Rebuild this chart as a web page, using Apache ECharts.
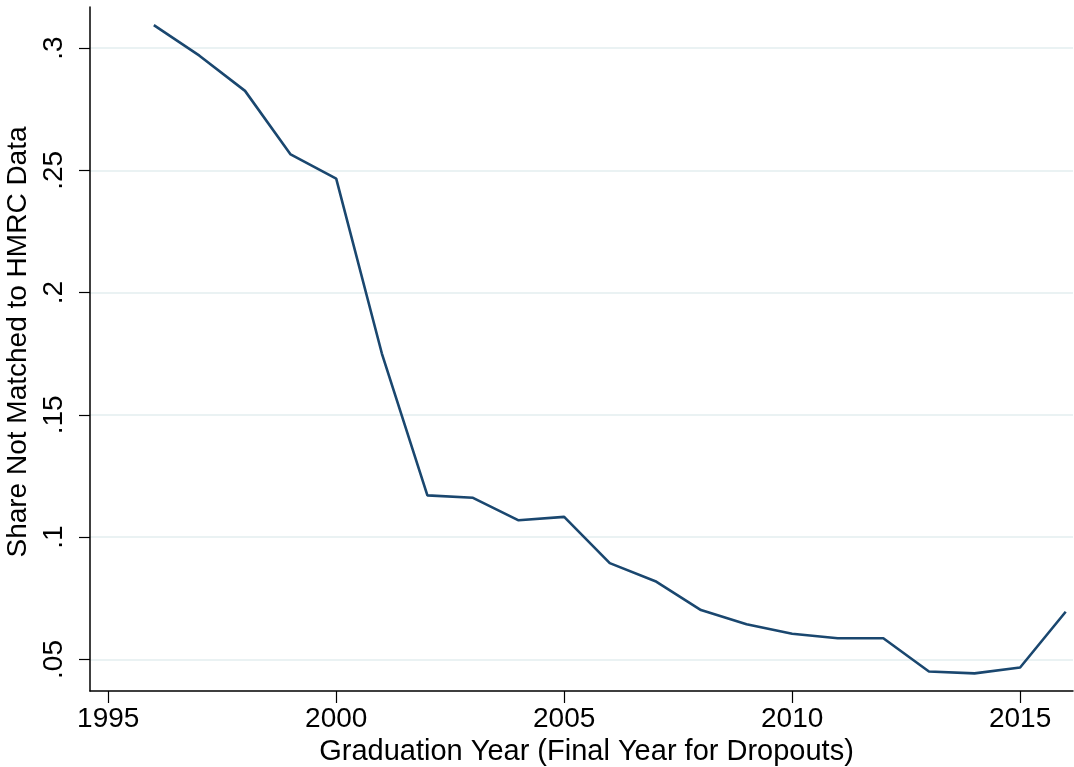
<!DOCTYPE html>
<html>
<head>
<meta charset="utf-8">
<script src="https://cdn.jsdelivr.net/npm/echarts@6/dist/echarts.min.js"></script>
<style>
html,body{margin:0;padding:0;background:#fff;}
#chart{width:1074px;height:767px;}
</style>
</head>
<body>
<div id="chart"></div>
<script>
const years = [1996,1997,1998,1999,2000,2001,2002,2003,2004,2005,2006,2007,2008,2009,2010,2011,2012,2013,2014,2015,2016];
const shareNotMatched = [0.3094,0.2969,0.2825,0.2565,0.2466,0.1752,0.1171,0.1161,0.1069,0.1083,0.0894,0.0820,0.0702,0.0644,0.0605,0.0587,0.0587,0.0451,0.0443,0.0467,0.0695];
const xTicks = [1995,2000,2005,2010,2015];
const yTicks = [0.05,0.1,0.15,0.2,0.25,0.3];
const xTitle = 'Graduation Year (Final Year for Dropouts)';
const yTitle = 'Share Not Matched to HMRC Data';

const font = '"Liberation Sans", Arial, sans-serif';
const chart = echarts.init(document.getElementById('chart'), null, {renderer:'canvas'});
chart.setOption({
  animation:false,
  backgroundColor:'#ffffff',
  grid:{left:90,right:1,top:7,bottom:76,containLabel:false,outerBoundsMode:'none'},
  xAxis:{
    type:'value',min:1994.6,max:2016.16,
    name:xTitle,nameLocation:'middle',nameGap:46,
    nameTextStyle:{fontFamily:font,fontSize:29,color:'#000',padding:[0,0,0,10]},
    axisLine:{show:true,onZero:false,lineStyle:{color:'#000',width:1.5}},
    axisTick:{show:true,length:12,lineStyle:{color:'#000',width:1.2},customValues:xTicks},
    axisLabel:{customValues:xTicks,margin:14,fontFamily:font,fontSize:28,color:'#000',
      formatter:function(v){return String(Math.round(v));}},
    splitLine:{show:false}
  },
  yAxis:{
    type:'value',min:0.0371,max:0.3168,
    name:yTitle,nameLocation:'middle',nameGap:50,nameRotate:90,
    nameTextStyle:{fontFamily:font,fontSize:28,color:'#000',padding:[0,0,0,14]},
    axisLine:{show:true,onZero:false,lineStyle:{color:'#000',width:1.5}},
    axisTick:{show:true,length:11,lineStyle:{color:'#000',width:1.2},customValues:yTicks},
    axisLabel:{customValues:yTicks,rotate:90,margin:22,fontFamily:font,fontSize:28,color:'#000',
      formatter:function(v){return String(+v.toFixed(2)).replace(/^0\./,'.');}},
    splitLine:{show:true,lineStyle:{color:'#eaf2f3',width:2}}
  },
  series:[{
    type:'line',
    data:years.map((y,i)=>[y,shareNotMatched[i]]),
    showSymbol:false,symbol:'none',
    lineStyle:{color:'#1a476f',width:2.6},
    itemStyle:{color:'#1a476f'}
  }]
});
</script>
</body>
</html>
